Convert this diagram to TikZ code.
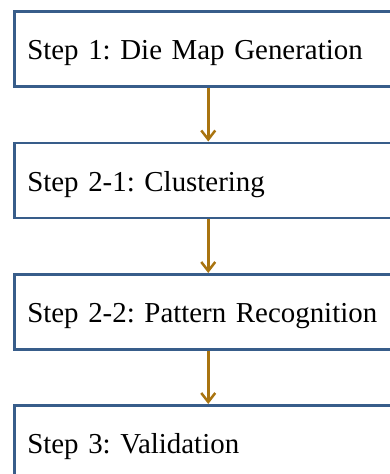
\documentclass[tikz,border=0pt]{standalone}
\usepackage{fontspec}
\setmainfont{Liberation Serif}
\usetikzlibrary{arrows.meta}
\definecolor{boxblue}{HTML}{385D8A}
\definecolor{arrowgold}{HTML}{A97410}
\frenchspacing
\begin{document}
\begin{tikzpicture}[x=1pt,y=1pt,
  stepbox/.style={draw=boxblue, line width=2.5pt, fill=white, rectangle,
    anchor=north west, minimum width=388pt, minimum height=75pt,
    text width=362pt, align=left, inner xsep=13pt,
    execute at begin node={\frenchspacing\hyphenpenalty=10000 },
    text height=22pt, text depth=0pt, font=\fontsize{28.9}{32}\selectfont},
  flow/.style={draw=arrowgold, line width=2.5pt,
    -{Straight Barb[length=9pt,width=14pt,line width=2.5pt]}}]
\useasboundingbox (0,0) rectangle (390,-474);
\clip (0,0) rectangle (390,-474);
\node[stepbox] (s1) at (13,-10) {Step 1: Die Map Generation};
\node[stepbox] (s2) at (13,-141.5) {Step 2-1: Clustering};
\node[stepbox] (s3) at (13,-273) {Step 2-2: Pattern Recognition};
\node[stepbox] (s4) at (13,-404) {Step 3: Validation};
\draw[flow] (s1.south) -- (s2.north);
\draw[flow] (s2.south) -- (s3.north);
\draw[flow] (s3.south) -- (s4.north);
\end{tikzpicture}
\end{document}
